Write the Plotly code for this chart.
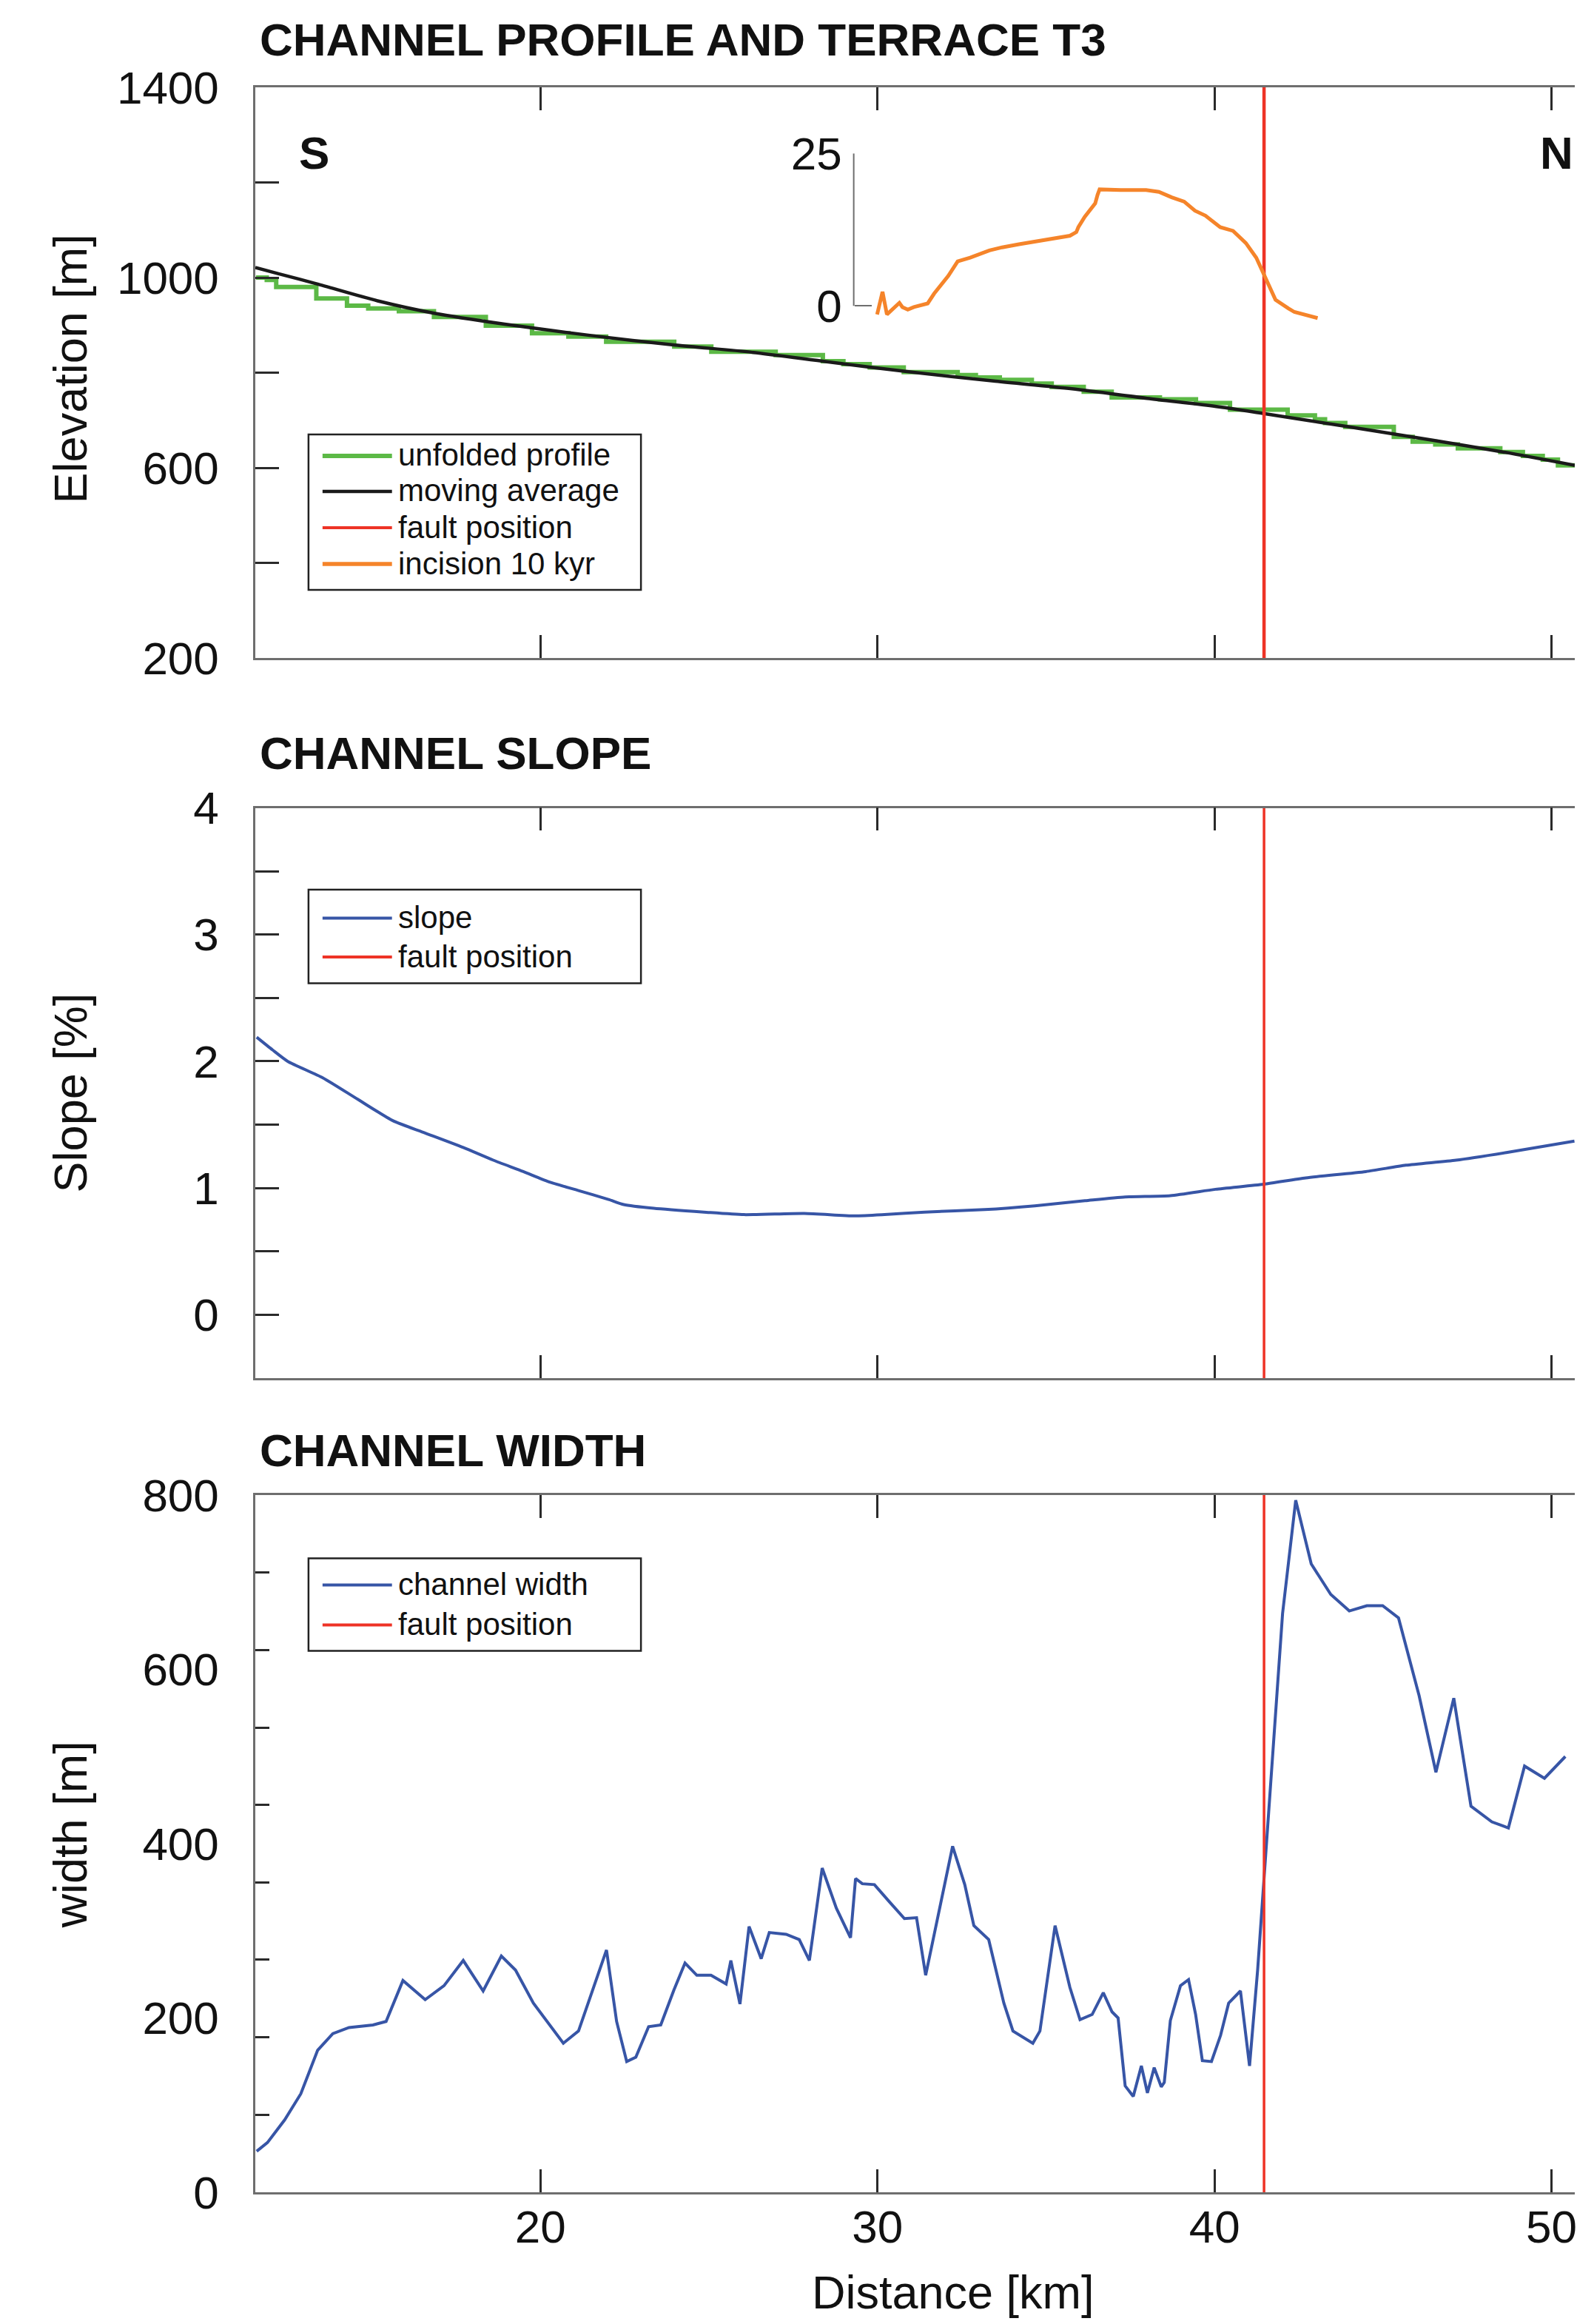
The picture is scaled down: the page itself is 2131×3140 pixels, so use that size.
import plotly.graph_objects as go

# ---------------- data ----------------
DIST_RANGE = [11.54, 50.69]          # km, shared x axis
DIST_TICKS = [20, 30, 40, 50]
FAULT_KM = 41.47

ELEV_RANGE = [200, 1400]
SLOPE_RANGE = [-0.5, 4]
WIDTH_RANGE = [0, 800]
INCISION_RANGE = [-3, 25]
INCISION_TICKS = [0, 25]
WIDTH_LABELS = [0, 200, 400, 600, 800]
WIDTH_MINOR = [88.9, 177.8, 266.7, 355.6, 444.4, 533.3, 622.2, 711.1]

# unfolded profile (stepped)
PROFILE_KM = [11.56, 11.88, 12.16, 13.35, 14.26, 14.89, 15.80, 16.84, 18.38, 19.75,
              20.83, 21.95, 23.97, 25.07, 26.98, 28.38, 28.99, 29.77, 30.78, 32.38,
              32.92, 33.63, 34.58, 35.17, 36.12, 36.95, 38.38, 39.45, 40.46, 42.17,
              42.98, 43.28, 43.88, 45.32, 45.88, 46.55, 47.22, 48.48, 49.15, 49.74,
              50.19, 50.69]
PROFILE_ELEV = [1000, 995, 980, 956, 941, 935, 929, 917, 899, 883,
                876, 865, 855, 844, 837, 824, 818, 811, 801, 795,
                790, 785, 777, 770, 760, 748, 744, 736, 722, 710,
                702, 694, 686, 665, 655, 649, 641, 633, 625, 617,
                605, 605]

# moving average
MOVAVG_KM = [11.54, 12.23, 13.35, 15.17, 16.85, 18.94, 21.51, 24.0, 26.26, 28.5,
             30.78, 33.5, 35.77, 38.0, 40.14, 41.46, 44.0, 46.47, 48.5, 50.69]
MOVAVG_ELEV = [1021, 1008, 987, 951, 925, 902, 878, 858, 843, 823,
               803, 782, 766, 746, 728, 714, 686, 658, 634, 605]

# incision 10 kyr (inset, m)
INCISION_KM = [29.99, 30.15, 30.28, 30.49, 30.65, 30.74, 30.90, 31.08, 31.49, 31.68,
               32.00, 32.10, 32.38, 32.75, 33.32, 33.70, 34.20, 34.70, 35.21, 35.71,
               35.90, 35.96, 36.15, 36.27, 36.46, 36.53, 36.59, 37.22, 37.97, 38.35,
               38.73, 39.10, 39.42, 39.73, 40.17, 40.55, 40.93, 41.24, 41.49, 41.81,
               42.19, 42.37, 43.06]
INCISION_M = [-1.4, 2.3, -1.4, -0.4, 0.5, -0.2, -0.6, -0.2, 0.4, 2.0,
              4.4, 4.9, 7.3, 7.9, 9.1, 9.6, 10.1, 10.6, 11.1, 11.5,
              12.1, 12.9, 14.6, 15.4, 16.8, 18.2, 19.1, 19.0, 19.0, 18.7,
              17.8, 17.1, 15.6, 14.8, 12.9, 12.3, 10.3, 7.9, 4.9, 1.0,
              -0.4, -1.0, -2.0]

# channel slope (%)
SLOPE_KM = [11.58, 12.05, 12.50, 13.54, 14.58, 15.63, 16.52, 17.71, 18.60, 19.49,
            20.24, 21.13, 22.02, 22.47, 23.36, 24.85, 26.04, 27.83, 29.32, 30.21,
            31.40, 33.18, 34.67, 36.16, 37.35, 38.69, 40.03, 41.46, 42.71, 44.49,
            45.68, 47.17, 48.66, 50.68]
SLOPE_PCT = [2.19, 2.09, 2.00, 1.87, 1.70, 1.53, 1.44, 1.32, 1.22, 1.13,
             1.05, 0.98, 0.91, 0.87, 0.84, 0.81, 0.79, 0.80, 0.78, 0.79,
             0.81, 0.83, 0.86, 0.90, 0.93, 0.94, 0.99, 1.03, 1.08, 1.13,
             1.18, 1.22, 1.28, 1.37]

# channel width (m)
WIDTH_KM = [11.58, 11.90, 12.41, 12.89, 13.39, 13.84, 14.32, 15.03, 15.42, 15.92,
            16.58, 17.14, 17.71, 18.30, 18.84, 19.26, 19.79, 20.68, 21.13, 21.96,
            22.26, 22.56, 22.83, 23.21, 23.57, 23.96, 24.29, 24.64, 25.06, 25.51,
            25.65, 25.92, 26.19, 26.55, 26.79, 27.29, 27.68, 27.98, 28.36, 28.78,
            29.20, 29.35, 29.55, 29.91, 30.36, 30.80, 31.16, 31.43, 31.90, 32.23,
            32.59, 32.86, 33.30, 33.75, 34.02, 34.61, 34.82, 35.27, 35.71, 36.01,
            36.37, 36.70, 36.96, 37.14, 37.35, 37.59, 37.83, 38.01, 38.21, 38.42,
            38.51, 38.69, 38.99, 39.23, 39.44, 39.64, 39.91, 40.18, 40.42, 40.77,
            41.04, 41.28, 42.02, 42.41, 42.87, 43.45, 44.00, 44.52, 44.99, 45.46,
            46.07, 46.57, 47.10, 47.61, 48.23, 48.72, 49.20, 49.79, 50.41]
WIDTH_M = [47, 57, 83, 113, 163, 182, 189, 192, 196, 243,
           221, 237, 266, 231, 271, 255, 217, 171, 185, 278,
           196, 150, 155, 190, 192, 232, 263, 249, 249, 239,
           266, 216, 305, 268, 298, 296, 290, 266, 372, 326,
           292, 360, 354, 353, 333, 314, 315, 249, 336, 397,
           353, 306, 290, 217, 185, 171, 185, 306, 235, 198,
           204, 229, 207, 200, 122, 110, 145, 114, 143, 121,
           126, 197, 237, 244, 204, 151, 150, 180, 217, 231,
           145, 255, 664, 794, 721, 686, 667, 673, 673, 659,
           570, 482, 567, 443, 425, 418, 489, 475, 500]

# legend labels per panel
LEGEND_TOP = ["unfolded profile", "moving average", "fault position", "incision 10 kyr"]
LEGEND_MID = ["slope", "fault position"]
LEGEND_BOT = ["channel width", "fault position"]

# ---------------- styling ----------------
FONT = "Liberation Sans, Arial, Helvetica, sans-serif"
GREEN = "#5cb946"
BLACK = "#1a1a1a"
RED = "#ee3326"
ORANGE = "#f5842a"
BLUE = "#3755a6"
FRAME = "#6e6e6e"
TICK = "#2a2a2a"

STYLE = {
    "unfolded profile": (GREEN, 6),
    "moving average": (BLACK, 4.5),
    "fault position": (RED, 4),
    "incision 10 kyr": (ORANGE, 5.5),
    "slope": (BLUE, 4),
    "channel width": (BLUE, 4),
}

W, H = 2131, 3140
M_L, M_R, M_T, M_B = 345, 0, 118, 178


def py(p):
    return (H - M_B - p) / (H - M_T - M_B)


def px(p):
    return (p - M_L) / (W - M_L - M_R)


fig = go.Figure()


def line(name, width=None):
    c, w = STYLE[name]
    return dict(color=c, width=width or w)


# top panel
fig.add_trace(go.Scatter(x=PROFILE_KM, y=PROFILE_ELEV, mode="lines", name=LEGEND_TOP[0],
                         line=dict(**line(LEGEND_TOP[0]), shape="hv"), xaxis="x", yaxis="y"))
fig.add_trace(go.Scatter(x=MOVAVG_KM, y=MOVAVG_ELEV, mode="lines", name=LEGEND_TOP[1],
                         line=dict(**line(LEGEND_TOP[1]), shape="spline", smoothing=0.8),
                         xaxis="x", yaxis="y"))
fig.add_trace(go.Scatter(x=[FAULT_KM, FAULT_KM], y=ELEV_RANGE, mode="lines", name=LEGEND_TOP[2],
                         line=line(LEGEND_TOP[2], 4.5), xaxis="x", yaxis="y"))
fig.add_trace(go.Scatter(x=INCISION_KM, y=INCISION_M, mode="lines", name=LEGEND_TOP[3],
                         line=line(LEGEND_TOP[3], 5), xaxis="x", yaxis="y4"))

# middle panel
fig.add_trace(go.Scatter(x=SLOPE_KM, y=SLOPE_PCT, mode="lines", name=LEGEND_MID[0],
                         line=dict(**line(LEGEND_MID[0]), shape="spline", smoothing=0.6),
                         xaxis="x2", yaxis="y2"))
fig.add_trace(go.Scatter(x=[FAULT_KM, FAULT_KM], y=SLOPE_RANGE, mode="lines", name=LEGEND_MID[1],
                         line=line(LEGEND_MID[1], 3.5), xaxis="x2", yaxis="y2"))

# bottom panel
fig.add_trace(go.Scatter(x=WIDTH_KM, y=WIDTH_M, mode="lines", name=LEGEND_BOT[0],
                         line=line(LEGEND_BOT[0]), xaxis="x3", yaxis="y3"))
fig.add_trace(go.Scatter(x=[FAULT_KM, FAULT_KM], y=WIDTH_RANGE, mode="lines", name=LEGEND_BOT[1],
                         line=line(LEGEND_BOT[1], 3.5), xaxis="x3", yaxis="y3"))

tickfont = dict(family=FONT, size=62, color="#111")

xcommon = dict(range=DIST_RANGE, tickvals=DIST_TICKS, ticks="inside", ticklen=31, tickwidth=2.5,
               tickcolor=TICK, showline=True, linecolor=FRAME, linewidth=2.5, mirror="ticks",
               showgrid=False, zeroline=False, tickfont=tickfont)
ycommon = dict(ticklen=32, tickwidth=2.5, tickcolor=TICK, showline=True,
               linecolor=FRAME, linewidth=2.5, mirror=False, showgrid=False, zeroline=False,
               tickfont=tickfont, ticklabelstandoff=34)

fig.update_layout(
    width=W, height=H,
    margin=dict(l=M_L, r=M_R, t=M_T, b=M_B, pad=0),
    paper_bgcolor="white", plot_bgcolor="rgba(0,0,0,0)",
    font=dict(family=FONT, color="#111"),
    showlegend=False,
    xaxis=dict(domain=[0, 1], anchor="y", showticklabels=False, **xcommon),
    xaxis2=dict(domain=[0, 1], anchor="y2", matches="x", showticklabels=False, **xcommon),
    xaxis3=dict(domain=[0, 1], anchor="y3", matches="x", showticklabels=True,
                ticklabelstandoff=-9, ticklabeloverflow="allow", **xcommon),
    yaxis=dict(domain=[py(889), 1], anchor="x", range=ELEV_RANGE, tick0=200, dtick=400,
               ticks="inside",
               minor=dict(dtick=200, ticks="inside", ticklen=32, tickwidth=2.5, tickcolor=TICK),
               **ycommon),
    yaxis2=dict(domain=[py(1862), py(1091.5)], anchor="x2", range=SLOPE_RANGE, tick0=0, dtick=1,
                ticks="inside",
                minor=dict(dtick=0.5, ticks="inside", ticklen=32, tickwidth=2.5, tickcolor=TICK),
                **ycommon),
    yaxis3=dict(domain=[0, py(2020)], anchor="x3", range=WIDTH_RANGE,
                tickmode="array", tickvals=WIDTH_LABELS, ticks="",
                minor=dict(tickmode="array", tickvals=WIDTH_MINOR, ticks="inside", ticklen=19,
                           tickwidth=2.5, tickcolor=TICK),
                **ycommon),
    yaxis4=dict(domain=[py(438), py(207.3)], anchor="free", position=px(1155),
                range=INCISION_RANGE, tickmode="array", tickvals=INCISION_TICKS,
                ticks="inside", ticklen=23, tickwidth=2, tickcolor=FRAME,
                showline=False, showgrid=False, zeroline=False, tickfont=tickfont,
                ticklabelstandoff=16),
)

# inset axis spine (spans 0..25 of the inset scale)
fig.add_shape(type="line", xref="paper", yref="y4", x0=px(1155), x1=px(1155),
              y0=INCISION_TICKS[0], y1=INCISION_TICKS[-1], line=dict(color=FRAME, width=2))

# legends: framed boxes with line samples and labels
LEGEND_FONT = dict(family=FONT, size=42, color="#111")
legend_boxes = [
    (LEGEND_TOP, 587, 797, [616, 664, 713, 762]),
    (LEGEND_MID, 1202, 1328.5, [1240.5, 1293]),
    (LEGEND_BOT, 2105.5, 2230.6, [2141.5, 2195.5]),
]
for names, top, bot, rows in legend_boxes:
    fig.add_shape(type="rect", xref="paper", yref="paper", x0=px(417), x1=px(867),
                  y0=py(bot), y1=py(top), fillcolor="white",
                  line=dict(color="#222", width=2.5), layer="above")
    for name, r in zip(names, rows):
        c, w = STYLE[name]
        fig.add_shape(type="line", xref="paper", yref="paper", x0=px(436), x1=px(530),
                      y0=py(r), y1=py(r), line=dict(color=c, width=w), layer="above")
        fig.add_annotation(text=name, xref="paper", yref="paper", x=px(536), y=py(r - 1),
                           xanchor="left", yanchor="middle", showarrow=False, font=LEGEND_FONT)

title_font = dict(family=FONT, size=62, color="#111")
ann = [
    dict(text="<b>CHANNEL PROFILE AND TERRACE T3</b>", x=px(349), y=py(54), xanchor="left"),
    dict(text="<b>CHANNEL SLOPE</b>", x=px(349), y=py(1017), xanchor="left"),
    dict(text="<b>CHANNEL WIDTH</b>", x=px(349), y=py(1959), xanchor="left"),
    dict(text="<b>S</b>", x=px(425), y=py(206), xanchor="center"),
    dict(text="<b>N</b>", x=px(2082), y=py(206), xanchor="left"),
]
for a in ann:
    fig.add_annotation(xref="paper", yref="paper", showarrow=False, font=title_font,
                       yanchor="middle", **a)

axis_title_font = dict(family=FONT, size=63, color="#111")
for text, yc in [("Elevation [m]", 498), ("Slope [%]", 1476), ("width [m]", 2479)]:
    fig.add_annotation(text=text, xref="paper", yref="paper", x=px(95), y=py(yc),
                       xanchor="center", yanchor="middle", textangle=-90,
                       showarrow=False, font=axis_title_font)
fig.add_annotation(text="Distance [km]", xref="paper", yref="paper", x=px(1290), y=py(3097),
                   xanchor="center", yanchor="middle", showarrow=False, font=axis_title_font)

fig.write_html("out.html", config={"displayModeBar": False},
               post_script="document.body.style.margin='0';document.body.style.overflow='hidden';")
